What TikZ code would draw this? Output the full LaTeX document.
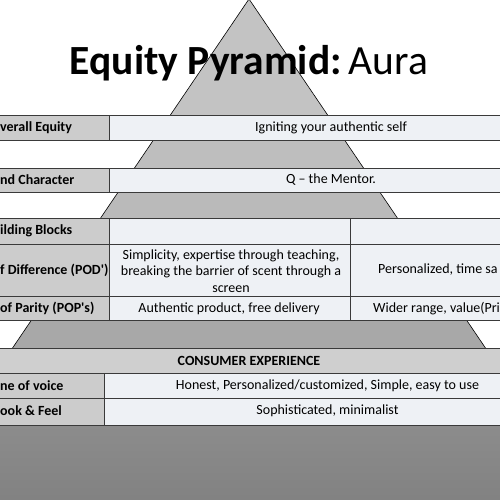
\documentclass[tikz,border=0pt]{standalone}
\usepackage{fontspec}
\setmainfont{Carlito}
\usetikzlibrary{positioning}
\definecolor{pyrone}{HTML}{C3C3C3}
\definecolor{pyrtwo}{HTML}{BEBEBE}
\definecolor{pyrthree}{HTML}{BABABA}
\definecolor{pyrfour}{HTML}{A8A8A8}
\definecolor{pyrfivea}{HTML}{8C8C8C}
\definecolor{pyrfiveb}{HTML}{7F7F7F}
\definecolor{cellgray}{HTML}{CCCCCC}
\definecolor{cellband}{HTML}{CFCFCF}
\definecolor{cellpale}{HTML}{EEF1F5}
\definecolor{rule}{HTML}{3A3A3A}
\tikzset{
  % --- table cells -----------------------------------------------------------
  cellhead/.style={fill=cellgray,draw=rule,line width=0.9pt},
  cellbody/.style={fill=cellpale,draw=rule,line width=0.9pt},
  cellwide/.style={fill=cellband,draw=rule,line width=0.9pt},
  % --- texts -----------------------------------------------------------------
  headtxt/.style={font=\fontsize{14}{16}\selectfont\bfseries,anchor=west,
                  inner sep=0pt},
  bodytxt/.style={font=\fontsize{14}{16.5}\selectfont,inner sep=0pt,
                  align=center},
  sidetxt/.style={bodytxt,anchor=west},
}

\begin{document}
\begin{tikzpicture}[x=1pt, y=-1pt]
  \useasboundingbox (0,0) rectangle (500,500);
  \clip (0,0) rectangle (500,500);
  \fill[white] (0,0) rectangle (500,500);

  % pyramid, filled band by band
  \coordinate (apex)  at (249,-1);
  \coordinate (baseL) at (-104,520);
  \coordinate (baseR) at (602,520);
  \begin{scope}
    \clip (apex) -- (baseL) -- (baseR) -- cycle;
    \fill[pyrone]   (-200,-10) rectangle (700,130);
    \fill[pyrtwo]   (-200,130) rectangle (700,180);
    \fill[pyrthree] (-200,180) rectangle (700,230);
    \fill[pyrfour]  (-200,230) rectangle (700,360);
    \shade[top color=pyrfivea,bottom color=pyrfiveb] (-200,425) rectangle (700,520);
  \end{scope}
  \draw[black,line width=0.6pt] (baseL) -- (apex) -- (baseR);

  % title
  \node[font=\fontsize{41.5}{46}\selectfont,anchor=base,inner sep=0pt] (title)
    at (249,75) {\textbf{Equity Pyramid:}\,Aura};

  % upper table
  \draw[cellhead] (-50,115) rectangle (109,140);
  \draw[cellbody] (109,115) rectangle (553,140);
  \draw[cellhead] (-50,168) rectangle (109,192);
  \draw[cellbody] (109,168) rectangle (553,192);
  \foreach \ytop/\ybot in {218/244,244/296,296/320}{
    \draw[cellhead] (-50,\ytop) rectangle (109,\ybot);
    \draw[cellbody] (109,\ytop) rectangle (350,\ybot);
    \draw[cellbody] (350,\ytop) rectangle (620,\ybot);
  }

  \node[headtxt] (equity) at (0,128) {verall Equity};
  \node[headtxt] (brand)  at (0,180) {nd Character};
  \node[headtxt] (blocks) at (0,231) {ilding Blocks};
  \node[headtxt] (pod)    at (0,270) {f Difference (POD\textquotesingle)};
  \node[headtxt] (pop)    at (0,308) {of Parity (POP\textquotesingle s)};

  \node[bodytxt] (self)   at (331,128) {Igniting your authentic self};
  \node[bodytxt] (mentor) at (331,180) {Q – the Mentor.};
  \node[bodytxt] (podone) at (231,271) {Simplicity, expertise through teaching,\\
                                        breaking the barrier of scent through a\\
                                        screen};
  \node[bodytxt] (popone) at (229,309) {Authentic product, free delivery};
  \node[sidetxt] (podtwo) at (378,270) {Personalized, time sa};
  \node[sidetxt] (poptwo) at (373,309) {Wider range, value(Pri};

  % lower table
  \draw[cellwide] (-10,348) rectangle (510,373);
  \draw[cellhead] (-50,373) rectangle (104,398);
  \draw[cellbody] (104,373) rectangle (551,398);
  \draw[cellhead] (-50,398) rectangle (104,425);
  \draw[cellbody] (104,398) rectangle (551,425);
  \draw[rule,line width=1.8pt] (-10,425.5) -- (510,425.5);

  \node[headtxt,anchor=center] (consumer) at (249,361) {CONSUMER EXPERIENCE};
  \node[headtxt] (voice) at (0,386) {ne of voice};
  \node[headtxt] (feel)  at (0,411) {ook \& Feel};
  \node[bodytxt] (honest) at (327.5,386)
    {Honest, Personalized/customized, Simple, easy to use};
  \node[bodytxt] (sophis) at (327.5,411) {Sophisticated, minimalist};
\end{tikzpicture}
\end{document}
